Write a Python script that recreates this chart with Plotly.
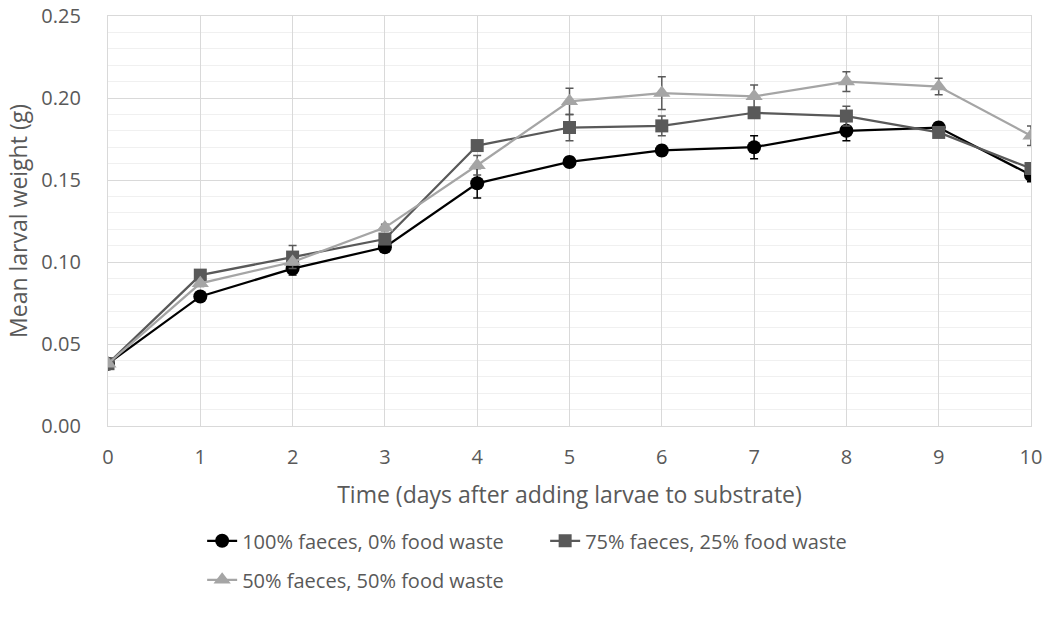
import plotly.graph_objects as go

days = [0, 1, 2, 3, 4, 5, 6, 7, 8, 9, 10]

names = ["100% faeces, 0% food waste", "75% faeces, 25% food waste", "50% faeces, 50% food waste"]

w100 = [0.038, 0.079, 0.096, 0.109, 0.148, 0.161, 0.168, 0.170, 0.180, 0.182, 0.153]
e100 = [0.001, 0.002, 0.004, 0.002, 0.009, 0.003, 0.003, 0.007, 0.006, 0.003, 0.004]

w75 = [0.038, 0.092, 0.103, 0.114, 0.171, 0.182, 0.183, 0.191, 0.189, 0.179, 0.157]
e75 = [0.001, 0.002, 0.007, 0.002, 0.003, 0.008, 0.006, 0.003, 0.006, 0.003, 0.003]

w50 = [0.038, 0.087, 0.100, 0.121, 0.159, 0.198, 0.203, 0.201, 0.210, 0.207, 0.177]
e50 = [0.001, 0.002, 0.002, 0.002, 0.006, 0.008, 0.010, 0.007, 0.006, 0.005, 0.006]

FONT = "Open Sans"
TXT = "#595959"
GRID = "#d9d9d9"

fig = go.Figure()

specs = [
    (w100, e100, "#000000", "#000000", "circle", 14, "legend"),
    (w75, e75, "#595959", "#595959", "square", 13, "legend"),
    (w50, e50, "#a5a5a5", "#595959", "triangle-up", 15, "legend2"),
]
for (vals, errs, col, ecol, sym, ms, lg), nm in zip(specs, names):
    fig.add_trace(go.Scatter(
        x=days, y=vals, name=nm, mode="lines+markers",
        line=dict(color=col, width=2.25),
        marker=dict(symbol=sym, size=ms, color=col),
        error_y=dict(type="data", array=errs, visible=True, color=ecol, thickness=1.5, width=4),
        legend=lg,
    ))

fig.update_layout(
    width=1046, height=625,
    margin=dict(l=108, r=15, t=16, b=199),
    plot_bgcolor="white", paper_bgcolor="white",
    font=dict(family=FONT, size=20, color=TXT),
    xaxis=dict(
        range=[0, 10], tickmode="linear", tick0=0, dtick=1,
        showgrid=True, gridcolor=GRID, gridwidth=1.3,
        showline=True, mirror=True, linecolor=GRID, linewidth=1.3,
        zeroline=False, ticks="", automargin=False,
        tickfont=dict(size=20, color=TXT), ticklabelstandoff=13,
        title=dict(text="Time (days after adding larvae to substrate)", font=dict(size=23, color=TXT), standoff=17),
    ),
    yaxis=dict(
        range=[0, 0.25], tickmode="linear", tick0=0, dtick=0.05, tickformat=".2f",
        showgrid=True, gridcolor=GRID, gridwidth=1.3,
        showline=True, mirror=True, linecolor=GRID, linewidth=1.3,
        minor=dict(dtick=0.01, showgrid=True, gridcolor="#f0f0f0", gridwidth=1),
        zeroline=False, ticks="", automargin=False,
        tickfont=dict(size=20, color=TXT), ticklabelstandoff=22,
        title=dict(text="Mean larval weight (g)", font=dict(size=23, color=TXT), standoff=7),
    ),
    legend=dict(
        orientation="h", x=0.102, xanchor="left", y=-0.28, yanchor="middle",
        font=dict(size=20, color=TXT), bgcolor="rgba(0,0,0,0)",
        entrywidth=298, entrywidthmode="pixels", traceorder="normal",
    ),
    legend2=dict(
        orientation="h", x=0.102, xanchor="left", y=-0.375, yanchor="middle",
        font=dict(size=20, color=TXT), bgcolor="rgba(0,0,0,0)",
    ),
)

fig.write_html("out.html")
